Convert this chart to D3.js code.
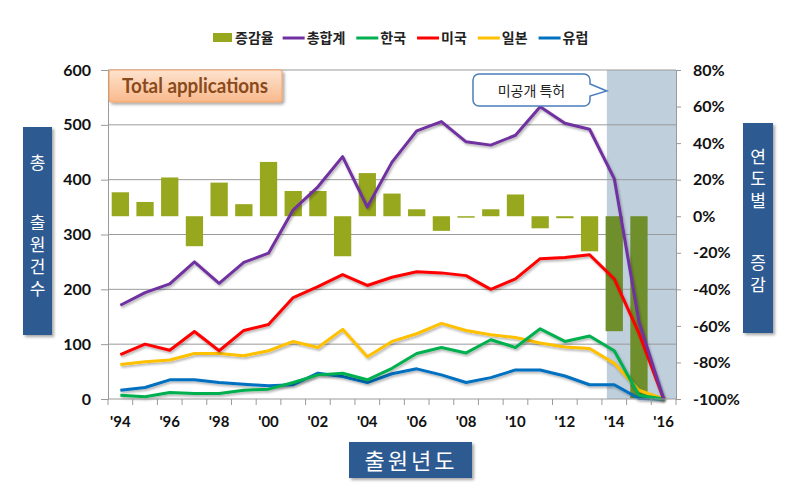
<!DOCTYPE html>
<html><head><meta charset="utf-8">
<script src="https://cdn.jsdelivr.net/npm/d3@7"></script>
<style>
body{margin:0;background:#fff;}
svg{display:block;}
</style></head>
<body>
<svg id="chart" width="788" height="489"></svg>
<script>
const years = ["1994","1995","1996","1997","1998","1999","2000","2001","2002","2003","2004","2005","2006","2007","2008","2009","2010","2011","2012","2013","2014","2015","2016"];
const tickYears = ["1994","1996","1998","2000","2002","2004","2006","2008","2010","2012","2014","2016"];
const tickLabels = ["'94","'96","'98","'00","'02","'04","'06","'08","'10","'12","'14","'16"];
const growth = [13.1,7.8,21.2,-16.4,18.4,6.6,29.7,13.8,13.8,-21.9,23.6,12.4,3.8,-8.0,-0.8,3.8,11.9,-6.6,-1.1,-19.2,-62.9,-99.5,null];
const total = [171,194,210,250,211,249,266,345,387,442,350,432,489,506,469,463,481,533,503,492,402,141,0];
const korea = [7,4,12,10,10,16,18,30,44,47,35,56,83,94,84,108,94,128,105,115,88,7,0];
const usa = [81,100,89,123,88,125,136,185,205,227,207,222,232,230,225,200,219,256,258,263,219,120,0];
const japan = [63,68,71,83,83,79,88,105,94,127,77,105,119,138,125,117,112,102,95,92,65,16,0];
const europe = [16,21,35,35,30,27,24,26,47,41,30,46,55,44,30,39,53,53,42,26,26,1,0];
const leftTicks = [0,100,200,300,400,500,600];
const rightTicks = [80,60,40,20,0,-20,-40,-60,-80,-100];
const seriesNames = ["총합계","한국","미국","일본","유럽"];
const seriesColors = ["#7030a0","#00b050","#ff0000","#ffc000","#0070c0"];

const svg = d3.select("#chart");
const L = 108, R = 676, T = 70, B = 399;
const x = d3.scaleBand().domain(years).range([L, R]).paddingInner(0).paddingOuter(0);
const yL = d3.scaleLinear().domain([0, 600]).range([B, T]);
const yR = d3.scaleLinear().domain([-100, 80]).range([B, T]);

const defs = svg.append("defs");
const sh = defs.append("filter").attr("id","sh").attr("x","-10%").attr("y","-10%").attr("width","130%").attr("height","140%");
sh.append("feDropShadow").attr("dx",1.2).attr("dy",1.8).attr("stdDeviation",1).attr("flood-color","#000").attr("flood-opacity",0.3);
const bsh = defs.append("filter").attr("id","bsh").attr("x","-20%").attr("y","-20%").attr("width","150%").attr("height","150%");
bsh.append("feDropShadow").attr("dx",2).attr("dy",2).attr("stdDeviation",1.5).attr("flood-color","#000").attr("flood-opacity",0.35);
const og = defs.append("linearGradient").attr("id","og").attr("x1",0).attr("y1",0).attr("x2",0).attr("y2",1);
og.append("stop").attr("offset","0%").attr("stop-color","#fde3cf");
og.append("stop").attr("offset","100%").attr("stop-color","#f9b98c");

// shaded unpublished region
svg.append("rect")
  .attr("x", x("2014") + x.bandwidth()*0.2).attr("y", T)
  .attr("width", R - (x("2014") + x.bandwidth()*0.2)).attr("height", B - T)
  .attr("fill", "#bfcfdc");

// gridlines
svg.append("g").selectAll("line").data(leftTicks.filter(d=>d>0)).join("line")
  .attr("x1", L).attr("x2", R).attr("y1", d=>yL(d)).attr("y2", d=>yL(d))
  .attr("stroke", "#9a9a9a").attr("stroke-width", 1);

// bars
const bw = x.bandwidth()*0.7;
svg.append("g").selectAll("rect").data(years.map((y,i)=>({y, v:growth[i]})).filter(d=>d.v!==null)).join("rect")
  .attr("x", d=>x(d.y) + (x.bandwidth()-bw)/2)
  .attr("width", bw)
  .attr("y", d=>yR(Math.max(0,d.v)))
  .attr("height", d=>Math.max(1, Math.abs(yR(d.v)-yR(0))))
  .attr("fill", d=> (d.y==="2014"||d.y==="2015") ? "#6f8f2c" : "#98a81e");

// lines
const allSeries = [total, korea, usa, japan, europe];
const line = d3.line().x((d,i)=>x(years[i]) + x.bandwidth()/2).y(d=>yL(d));
const order = [4,3,1,2,0];
order.forEach(k=>{
  svg.append("path").datum(allSeries[k]).attr("d", line)
    .attr("fill","none").attr("stroke", seriesColors[k]).attr("stroke-width", 3)
    .attr("stroke-linejoin","round").attr("filter","url(#sh)");
});

// axes
const axL = svg.append("g").attr("transform",`translate(${L},0)`)
  .call(d3.axisLeft(yL).tickValues(leftTicks).tickSize(7).tickPadding(10));
axL.select(".domain").attr("stroke","#9a9a9a");
axL.selectAll(".tick line").attr("stroke","#9a9a9a");
axL.selectAll("text").attr("font-family","Lato, 'Liberation Sans', sans-serif").attr("font-weight","bold").attr("font-size",16).attr("fill","#111");

const axR = svg.append("g").attr("transform",`translate(${R},0)`)
  .call(d3.axisRight(yR).tickValues(rightTicks).tickSize(5).tickPadding(12).tickFormat(d=>d+"%"));
axR.select(".domain").attr("stroke","#9a9a9a");
axR.selectAll(".tick line").attr("stroke","#9a9a9a");
axR.selectAll("text").attr("font-family","Lato, 'Liberation Sans', sans-serif").attr("font-weight","bold").attr("font-size",16).attr("fill","#111");

const axB = svg.append("g").attr("transform",`translate(0,${B})`);
axB.append("line").attr("x1",L).attr("x2",R).attr("y1",0).attr("y2",0).attr("stroke","#9a9a9a");
axB.selectAll(".bt").data(years.concat(["end"])).join("line").attr("class","bt")
  .attr("x1",(d,i)=> i<years.length ? x(d) : R).attr("x2",(d,i)=> i<years.length ? x(d) : R)
  .attr("y1",0).attr("y2",6).attr("stroke","#9a9a9a");
axB.selectAll("text").data(tickYears).join("text")
  .attr("x", d=>x(d)+x.bandwidth()/2).attr("y", 28)
  .attr("text-anchor","middle")
  .attr("font-family","Lato, 'Liberation Sans', sans-serif").attr("font-weight","bold").attr("font-size",15).attr("fill","#111")
  .text((d,i)=>tickLabels[i]);

// legend
const lg = svg.append("g").attr("transform","translate(213,38)");
const lf = "'Noto Sans CJK KR', sans-serif";
let cx = 0;
lg.append("rect").attr("x",cx).attr("y",-5).attr("width",19).attr("height",9).attr("fill","#98a81e");
cx += 22;
let t0 = lg.append("text").attr("x",cx).attr("y",5).attr("font-family",lf).attr("font-weight","bold").attr("font-size",14).attr("fill","#222").text("증감율");
cx += t0.node().getComputedTextLength() + 9;
seriesNames.forEach((n,i)=>{
  lg.append("line").attr("x1",cx).attr("x2",cx+22).attr("y1",0).attr("y2",0).attr("stroke",seriesColors[i]).attr("stroke-width",3);
  cx += 24;
  const t = lg.append("text").attr("x",cx).attr("y",5).attr("font-family",lf).attr("font-weight","bold").attr("font-size",14).attr("fill","#222").text(n);
  cx += t.node().getComputedTextLength() + 11;
});

// Total applications box
svg.append("rect").attr("x",109).attr("y",70).attr("width",173).attr("height",32).attr("rx",2)
  .attr("fill","url(#og)").attr("stroke","#f4a060").attr("stroke-width",1).attr("filter","url(#bsh)");
svg.append("text").attr("x",122).attr("y",93)
  .attr("textLength",146).attr("lengthAdjust","spacingAndGlyphs")
  .attr("font-family","Lato, 'Liberation Sans', sans-serif").attr("font-weight","bold").attr("font-size",21).attr("fill","#8a4a1c")
  .text("Total applications");

// callout
const cp = d3.path();
const cx0=473, cy0=74, cx1=590, cy1=106, r=6;
cp.moveTo(cx0+r,cy0); cp.lineTo(cx1-r,cy0); cp.arcTo(cx1,cy0,cx1,cy0+r,r);
cp.lineTo(cx1,cy0+10); cp.lineTo(x("2014")+x.bandwidth()*0.2, cy0+17); cp.lineTo(cx1,cy0+22);
cp.lineTo(cx1,cy1-r); cp.arcTo(cx1,cy1,cx1-r,cy1,r);
cp.lineTo(cx0+r,cy1); cp.arcTo(cx0,cy1,cx0,cy1-r,r);
cp.lineTo(cx0,cy0+r); cp.arcTo(cx0,cy0,cx0+r,cy0,r); cp.closePath();
svg.append("path").attr("d",cp.toString()).attr("fill","#fff").attr("stroke","#4a7ebb").attr("stroke-width",1.5);
svg.append("text").attr("x",(cx0+cx1)/2).attr("y",96).attr("text-anchor","middle")
  .attr("font-family",lf).attr("font-size",14).attr("fill","#222").text("미공개 특허");

// axis title boxes (vertical text)
const boxFill = "#2f5a92";
function vText(xc, yTop, str){
  svg.append("text").attr("x",xc).attr("y",yTop)
    .style("writing-mode","vertical-rl").attr("text-anchor","start")
    .attr("font-family",lf).attr("font-size",17).attr("letter-spacing",5).attr("fill","#fff").text(str);
}
svg.append("rect").attr("x",23).attr("y",127).attr("width",29).attr("height",208).attr("fill",boxFill).attr("filter","url(#bsh)");
vText(37.5, 154, "총");
vText(37.5, 214, "출원건수");

svg.append("rect").attr("x",743).attr("y",123).attr("width",30).attr("height",210).attr("fill",boxFill).attr("filter","url(#bsh)");
vText(758, 148, "연도별");
vText(758, 254, "증감");

svg.append("rect").attr("x",349).attr("y",442).attr("width",123).attr("height",36).attr("fill",boxFill).attr("filter","url(#bsh)");
svg.append("text").attr("x",411).attr("y",469).attr("text-anchor","middle")
  .attr("font-family",lf).attr("font-size",22).attr("letter-spacing",3).attr("fill","#fff").text("출원년도");
</script>
</body></html>
